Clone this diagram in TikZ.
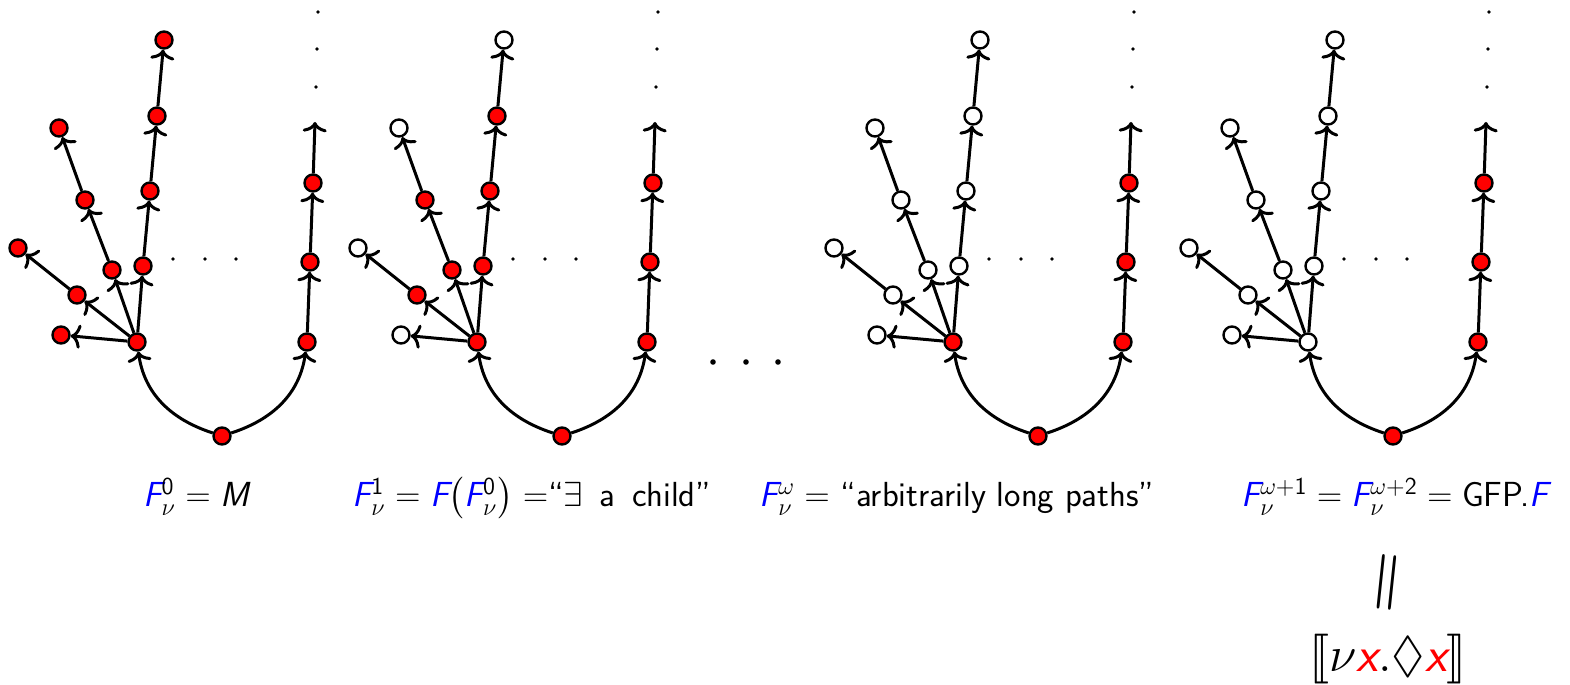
\RequirePackage{fix-cm}
\documentclass[tikz,border=0pt]{standalone}
\usepackage{amsmath,amssymb,stmaryrd,graphicx}
\usepackage{xcolor}
\usetikzlibrary{arrows.meta}

\newcommand{\sfit}[1]{\textsf{\itshape #1}}
\newcommand{\Fb}{\textcolor{blue}{\sfit{F}}}

\begin{document}
\begin{tikzpicture}[
  x=0.5pt, y=0.5pt,
  state/.style={circle, draw=black, line width=1.2pt, minimum size=8.5pt, inner sep=0pt},
  edge/.style={->, >={To[length=5pt,width=12pt]}, line width=1.5pt, draw=black},
  smalldot/.style={circle, fill=black, minimum size=1.9pt, inner sep=0pt},
  bigdot/.style={circle, fill=black, minimum size=2.8pt, inner sep=0pt},
  lbl/.style={font=\sffamily\fontsize{17.4}{20}\selectfont, anchor=base}
]
\useasboundingbox (0,0) rectangle (1570,685);

% The four approximants: offset / root / left child / inner / leaves
\foreach \dx/\cr/\ca/\ci/\cl [count=\k] in {0/red/red/red/red, 340/red/red/red/white, 816/red/red/white/white, 1171/red/white/white/white}{
  \node[state, fill=\cr] (r\k)  at ({\dx+222},249) {};
  \node[state, fill=\ca] (a\k)  at ({\dx+137},343) {};
  \node[state, fill=red] (b\k)  at ({\dx+307},343) {};
  % children of the left node
  \node[state, fill=\cl] (p\k)  at ({\dx+61},350) {};
  \node[state, fill=\ci] (q1\k) at ({\dx+77},390) {};
  \node[state, fill=\cl] (q2\k) at ({\dx+18},437) {};
  \node[state, fill=\ci] (s1\k) at ({\dx+112},415) {};
  \node[state, fill=\ci] (s2\k) at ({\dx+85},485) {};
  \node[state, fill=\cl] (s3\k) at ({\dx+59},557) {};
  \node[state, fill=\ci] (t1\k) at ({\dx+143},419) {};
  \node[state, fill=\ci] (t2\k) at ({\dx+150},494) {};
  \node[state, fill=\ci] (t3\k) at ({\dx+157},569) {};
  \node[state, fill=\cl] (t4\k) at ({\dx+164},645) {};
  % infinite branch on the right
  \node[state, fill=red] (u1\k) at ({\dx+310},423) {};
  \node[state, fill=red] (u2\k) at ({\dx+313},502) {};
  \coordinate (u3\k) at ({\dx+315},563);
  \node[smalldot] (v1\k) at ({\dx+316},598) {};
  \node[smalldot] (v2\k) at ({\dx+317},636) {};
  \node[smalldot] (v3\k) at ({\dx+318},673) {};
  \node[smalldot] (h1\k) at ({\dx+173},426) {};
  \node[smalldot] (h2\k) at ({\dx+205},426) {};
  \node[smalldot] (h3\k) at ({\dx+236},426) {};

  \draw[edge] (r\k) to[out=162,in=-82] (a\k);
  \draw[edge] (r\k) to[out=18,in=-98] (b\k);
  \draw[edge] (a\k) -- (p\k);
  \draw[edge] (a\k) -- (q1\k);
  \draw[edge] (q1\k) -- (q2\k);
  \draw[edge] (a\k) -- (s1\k);
  \draw[edge] (s1\k) -- (s2\k);
  \draw[edge] (s2\k) -- (s3\k);
  \draw[edge] (a\k) -- (t1\k);
  \draw[edge] (t1\k) -- (t2\k);
  \draw[edge] (t2\k) -- (t3\k);
  \draw[edge] (t3\k) -- (t4\k);
  \draw[edge] (b\k) -- (u1\k);
  \draw[edge] (u1\k) -- (u2\k);
  \draw[edge] (u2\k) -- (u3\k);
}

% dots between the second and third approximant
\node[bigdot] (m1) at (713,323) {};
\node[bigdot] (m2) at (746,323) {};
\node[bigdot] (m3) at (778,323) {};

% labels
\node[lbl] (l0) at (196,178) {$\Fb^{\mathsf{0}}_{\nu} = \sfit{M}$};
\node[lbl] (l1) at (532,178) {$\Fb^{\mathsf{1}}_{\nu} = \Fb\bigl(\Fb^{\mathsf{0}}_{\nu}\bigr) =$``$\exists$\, a\, child''};
\node[lbl] (lw) at (957,178) {$\Fb^{\omega}_{\nu} =$ ``arbitrarily long paths''};
\node[lbl] (lg) at (1395,178) {$\Fb^{\omega+\mathsf{1}}_{\nu} = \Fb^{\omega+\mathsf{2}}_{\nu} = \textsf{GFP.}\Fb$};
\node[lbl, anchor=center] (eq) at (1390,102) {\rotatebox{84}{\scalebox{2.1}[1.5]{$\boldsymbol{=}$}}};
\node[lbl, font=\sffamily\fontsize{25}{28}\selectfont] (sem) at (1388,13) {$\llbracket \nu\textcolor{red}{\sfit{x}}.\Diamond\textcolor{red}{\sfit{x}}\rrbracket$};

\end{tikzpicture}
\end{document}
